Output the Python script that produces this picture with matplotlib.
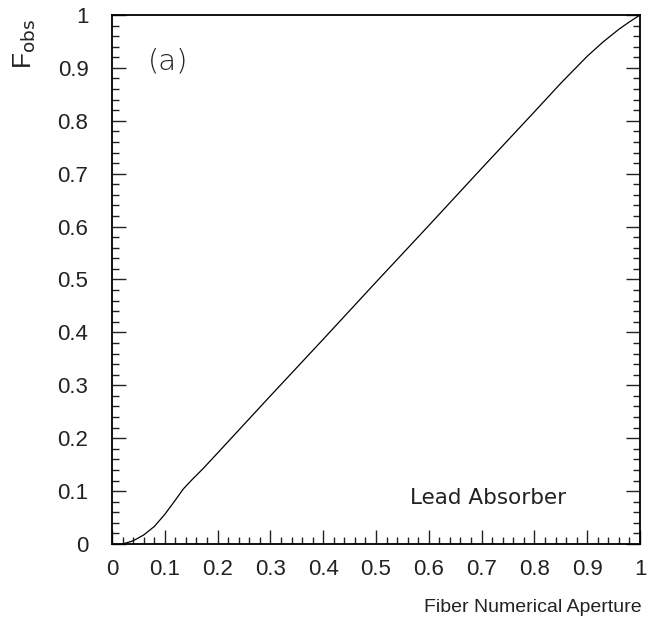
import matplotlib
matplotlib.use("Agg")
import matplotlib.pyplot as plt
from matplotlib.ticker import MultipleLocator

# values
aperture = [0.02, 0.04, 0.06, 0.08, 0.10, 0.12, 0.135, 0.15, 0.173, 0.20,
            0.30, 0.40, 0.50, 0.60, 0.70, 0.80, 0.85, 0.90, 0.93, 0.96, 0.98, 1.0]
f_obs = [0.0, 0.006, 0.017, 0.033, 0.056, 0.083, 0.104, 0.120, 0.143, 0.172,
         0.280, 0.387, 0.495, 0.602, 0.710, 0.817, 0.871, 0.922, 0.949, 0.973, 0.987, 1.0]

plt.rcParams["font.family"] = ["Liberation Sans", "DejaVu Sans"]

fig = plt.figure(figsize=(6.49, 6.22), dpi=100)
ax = fig.add_axes([112 / 649, 78 / 622, 528 / 649, 529 / 622])

ax.plot(aperture, f_obs, color="black", linewidth=0.9)

ax.set_xlim(0, 1)
ax.set_ylim(0, 1)
ax.xaxis.set_major_locator(MultipleLocator(0.1))
ax.xaxis.set_minor_locator(MultipleLocator(0.02))
ax.yaxis.set_major_locator(MultipleLocator(0.1))
ax.yaxis.set_minor_locator(MultipleLocator(0.02))
ax.xaxis.set_major_formatter(lambda v, p: f"{v:g}")
ax.yaxis.set_major_formatter(lambda v, p: f"{v:g}")

ax.tick_params(which="both", direction="in", right=True, top=False, labelsize=16, colors="#222222")
ax.tick_params(which="major", length=10, width=1.0)
ax.tick_params(which="minor", length=5, width=1.0)
ax.tick_params(axis="x", pad=11)
ax.tick_params(axis="y", pad=17)
for s in ax.spines.values():
    s.set_linewidth(1.3)

ax.text(0.106, 0.913, "(a)", transform=ax.transAxes, fontsize=21,
        family="DejaVu Sans", fontweight="light", color="#222222", ha="center", va="center")
ax.text(0.564, 0.087, "Lead Absorber", transform=ax.transAxes, fontsize=15.5,
        family="DejaVu Sans", color="#222222", ha="left", va="center")

fig.text(0.038, 0.93, r"F$_{\rm obs}$", rotation=90, fontsize=19,
         ha="center", va="center", color="#222222")
fig.text(0.988, 0.024, "Fiber Numerical Aperture", fontsize=14,
         ha="right", va="center", color="#222222")

fig.savefig("out.png", dpi=100)
